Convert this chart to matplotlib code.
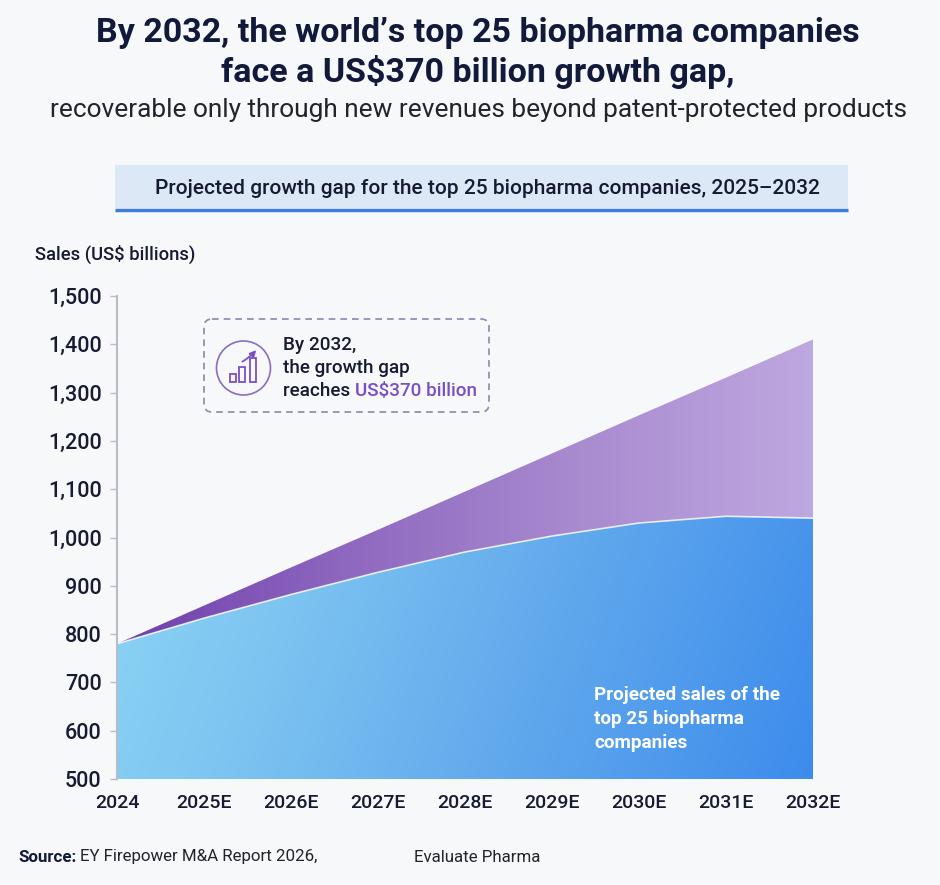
import numpy as np
import matplotlib
matplotlib.use("Agg")
import matplotlib.pyplot as plt
from matplotlib.colors import LinearSegmentedColormap
from matplotlib.patches import FancyBboxPatch, Circle, Rectangle, Polygon

# data
years = ["2024", "2025E", "2026E", "2027E", "2028E", "2029E", "2030E", "2031E", "2032E"]
trend_sales = [780, 859, 938, 1016, 1095, 1174, 1253, 1331, 1410]
projected_sales = [780, 833, 882, 928, 970, 1003, 1030, 1044, 1040]
y_ticks = [500, 600, 700, 800, 900, 1000, 1100, 1200, 1300, 1400, 1500]

plt.rcParams["font.family"] = ["Roboto", "DejaVu Sans"]

W, H = 940, 885
fig = plt.figure(figsize=(W / 100, H / 100), dpi=100)
fig.patch.set_facecolor("#f7f8fa")

# overlay in pixel coords for text and decorations
ov = fig.add_axes([0, 0, 1, 1])
ov.set_xlim(0, W)
ov.set_ylim(H, 0)
ov.axis("off")
ov.set_zorder(3)

navy = "#111a3a"
ov.text(478, 33, "By 2032, the world\u2019s top 25 biopharma companies", ha="center", va="center",
        fontsize=24.5, fontweight="bold", color=navy)
ov.text(478, 72, "face a US$370 billion growth gap,", ha="center", va="center",
        fontsize=24.5, fontweight="bold", color=navy)
ov.text(478, 110, "recoverable only through new revenues beyond patent-protected products",
        ha="center", va="center", fontsize=18.9, color="#22242c")

# chart title band
ov.add_patch(Rectangle((115, 165), 733, 43, facecolor="#dde8f7", edgecolor="none"))
ov.plot([115, 848], [209.5, 209.5], color="#3b7fd9", lw=2.5, solid_capstyle="butt")
ov.text(487, 188, "Projected growth gap for the top 25 biopharma companies, 2025\u20132032",
        ha="center", va="center", fontsize=15, fontweight="medium", color="#161b33")

ov.text(35, 254, "Sales (US$ billions)", ha="left", va="center", fontsize=13.3,
        fontweight="medium", color="#161b33")

# main chart
ax = fig.add_axes([117 / W, 1 - 779 / H, (813 - 117) / W, (779 - 296) / H])
ax.set_facecolor("none")
x = np.arange(len(years))
ax.set_xlim(0, len(years) - 1)
ax.set_ylim(500, 1500)

blue_cmap = LinearSegmentedColormap.from_list("b", ["#93daf7", "#7cc3f1", "#5ea6ec", "#3d8cec"])
purple_cmap = LinearSegmentedColormap.from_list("p", ["#6f3fae", "#8f68bf", "#a98bd0", "#bea8e0"])

gx, gy = np.meshgrid(np.linspace(0, 1, 300), np.linspace(0, 1, 200))
blue_grad = 0.8 * gx + 0.2 * gy
purple_grad = gx

top_poly = Polygon(list(zip(x, trend_sales)) + list(zip(x[::-1], projected_sales[::-1])),
                   closed=True, facecolor="none", edgecolor="none")
bot_poly = Polygon(list(zip(x, projected_sales)) + [(x[-1], 500), (x[0], 500)],
                   closed=True, facecolor="none", edgecolor="none")
ax.add_patch(top_poly)
ax.add_patch(bot_poly)

im1 = ax.imshow(purple_grad, cmap=purple_cmap, extent=[0, 8, 500, 1500], origin="upper",
                aspect="auto", zorder=1)
im1.set_clip_path(top_poly)
im2 = ax.imshow(blue_grad, cmap=blue_cmap, extent=[0, 8, 500, 1500], origin="upper",
                aspect="auto", zorder=1)
im2.set_clip_path(bot_poly)
ax.plot(x, projected_sales, color="white", lw=1.2, alpha=0.8, zorder=2)

ax.set_xticks(x)
ax.set_xticklabels(years)
ax.set_yticks(y_ticks)
ax.set_yticklabels([f"{v:,}" for v in y_ticks])
ax.tick_params(axis="y", length=5, width=1, color="#b8bcc6", pad=6, labelsize=15.5,
               labelcolor="#161b33")
ax.tick_params(axis="x", length=0, pad=11, labelsize=14, labelcolor="#161b33")
for lab in ax.get_xticklabels() + ax.get_yticklabels():
    lab.set_fontweight("medium")
for s in ["top", "right", "bottom"]:
    ax.spines[s].set_visible(False)
ax.spines["left"].set_color("#b8bcc6")
ax.spines["left"].set_linewidth(1.5)

ov.text(594, 719, "Projected sales of the\ntop 25 biopharma\ncompanies", ha="left", va="center",
        fontsize=13.6, fontweight="bold", color="white", linespacing=1.45, zorder=4)

# annotation box
purple = "#7a4fc4"
ov.add_patch(FancyBboxPatch((204, 319), 285, 93, boxstyle="round,pad=0,rounding_size=8",
                            facecolor="none", edgecolor="#8f84b0", lw=1.2, linestyle=(0, (4, 3))))
ov.add_patch(Circle((243.5, 368), 27, facecolor="none", edgecolor="#8a6cc0", lw=1.2))
for bx, bh in [(233.3, 8), (242.2, 15), (252.6, 24)]:
    ov.add_patch(Rectangle((bx - 3, 382 - bh), 6, bh, facecolor="none", edgecolor=purple, lw=1.3))
ov.annotate("", xy=(258, 348), xytext=(240, 363),
            arrowprops=dict(arrowstyle="-|>", color=purple, lw=1.3, mutation_scale=9,
                            connectionstyle="arc3,rad=0.1"))
fs = 13.6
ov.text(283, 345, "By 2032,", ha="left", va="center", fontsize=fs, fontweight="medium", color="#161b33")
ov.text(283, 368, "the growth gap", ha="left", va="center", fontsize=fs, fontweight="medium",
        color="#161b33")
t1 = ov.text(283, 391, "reaches ", ha="left", va="center", fontsize=fs, fontweight="medium",
             color="#161b33")
fig.canvas.draw()
bb = t1.get_window_extent().transformed(ov.transData.inverted())
ov.text(bb.x1, 391, "US$370 billion", ha="left", va="center", fontsize=fs, fontweight="medium",
        color=purple)

# source
t2 = ov.text(18, 857, "Source:", ha="left", va="center", fontsize=12.2, fontweight="bold", color=navy)
fig.canvas.draw()
bb = t2.get_window_extent().transformed(ov.transData.inverted())
ov.text(bb.x1 + 4, 857, "EY Firepower M&A Report 2026,", ha="left", va="center", fontsize=12.2,
        color="#22242c")
ov.text(414, 857, "Evaluate Pharma", ha="left", va="center", fontsize=12.2, color="#22242c")

fig.savefig("out.png", dpi=100, facecolor=fig.get_facecolor())
